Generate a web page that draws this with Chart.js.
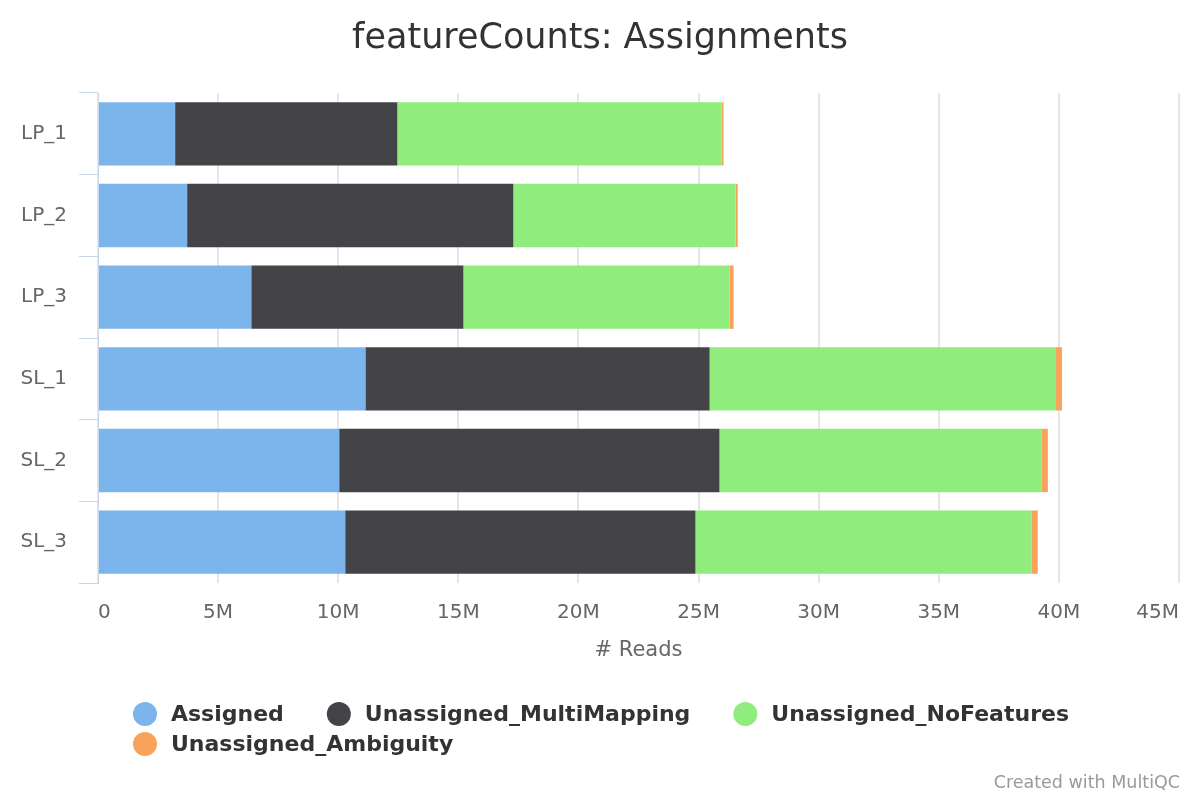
<!DOCTYPE html>
<html>
<head>
<meta charset="utf-8">
<script src="https://cdn.jsdelivr.net/npm/chart.js@4.4.1/dist/chart.umd.min.js"></script>
<style>
  html, body { margin: 0; padding: 0; background: #ffffff; }
  #wrap { width: 1200px; height: 800px; position: relative; }
  canvas { display: block; }
</style>
</head>
<body>
<div id="wrap"><canvas id="c" width="1200" height="800"></canvas></div>
<script>
const categories = ['LP_1', 'LP_2', 'LP_3', 'SL_1', 'SL_2', 'SL_3'];
const seriesNames = ['Assigned', 'Unassigned_MultiMapping', 'Unassigned_NoFeatures', 'Unassigned_Ambiguity'];
const seriesColors = ['#7cb5ec', '#434348', '#90ed7d', '#f7a35c'];
const assigned     = [3210000, 3710000, 6380000, 11130000, 10040000, 10290000];
const multiMapping = [9250000, 13580000, 8830000, 14330000, 15830000, 14580000];
const noFeatures   = [13500000, 9250000, 11080000, 14420000, 13420000, 14000000];
const ambiguity    = [80000, 90000, 170000, 250000, 250000, 250000];
const xTickStep = 5000000;
const xMax = 45000000;
const chartTitle = 'featureCounts: Assignments';
const xAxisTitle = '# Reads';
const creditText = 'Created with MultiQC';

const FONT = "'DejaVu Sans', 'Liberation Sans', sans-serif";
const seriesValues = [assigned, multiMapping, noFeatures, ambiguity];

const datasets = seriesNames.map((name, i) => ({
  label: name,
  data: seriesValues[i],
  backgroundColor: seriesColors[i],
  borderWidth: 0,
  barPercentage: 0.775,
  categoryPercentage: 1.0
}));

const legendPlugin = {
  id: 'hcLegend',
  afterDraw(chart) {
    const ctx = chart.ctx;
    ctx.save();
    ctx.font = "bold 22px " + FONT;
    ctx.textBaseline = 'middle';
    ctx.textAlign = 'left';
    const r = 12, gapSym = 14, itemDist = 43, maxRow = 1000, rowH = 30;
    const items = chart.data.datasets.map(d => ({
      label: d.label, color: d.backgroundColor,
      w: 2 * r + gapSym + ctx.measureText(d.label).width
    }));
    const rows = [[]];
    let cur = 0;
    items.forEach(it => {
      const add = (rows[rows.length - 1].length ? itemDist : 0) + it.w;
      if (cur + add > maxRow && rows[rows.length - 1].length) {
        rows.push([it]); cur = it.w;
      } else { rows[rows.length - 1].push(it); cur += add; }
    });
    const rowWidths = rows.map(row => row.reduce((s, it, k) => s + it.w + (k ? itemDist : 0), 0));
    const boxW = Math.max(...rowWidths);
    const startX = Math.round((chart.width - boxW) / 2) + 1;
    rows.forEach((row, ri) => {
      let x = startX;
      const y = 714 + ri * rowH;
      row.forEach(it => {
        ctx.fillStyle = it.color;
        ctx.beginPath();
        ctx.arc(x + r, y, r, 0, Math.PI * 2);
        ctx.fill();
        ctx.fillStyle = '#333333';
        ctx.fillText(it.label, x + 2 * r + gapSym, y + 1);
        x += it.w + itemDist;
      });
    });
    ctx.font = "17.5px " + FONT;
    ctx.fillStyle = '#999999';
    ctx.textAlign = 'right';
    ctx.fillText(creditText, 1180, 783);
    ctx.restore();
  }
};

new Chart(document.getElementById('c'), {
  type: 'bar',
  data: { labels: categories, datasets },
  options: {
    indexAxis: 'y',
    responsive: false,
    animation: false,
    layout: { padding: { left: 0, right: 0, top: 0, bottom: 117 } },
    plugins: {
      legend: { display: false },
      tooltip: { enabled: false },
      title: {
        display: true,
        text: chartTitle,
        color: '#333333',
        font: { family: FONT, size: 35, weight: 'normal' },
        padding: { top: 18, bottom: 33 }
      }
    },
    scales: {
      x: {
        stacked: true,
        min: 0,
        max: xMax,
        afterFit(scale) { scale.height = 100; scale.paddingLeft = 0; scale.paddingRight = 21; },
        ticks: {
          stepSize: xTickStep,
          align: 'inner',
          color: '#666666',
          padding: 18,
          maxRotation: 0,
          font: { family: FONT, size: 20 },
          callback: v => v === 0 ? '0' : (v / 1000000) + 'M'
        },
        grid: { color: '#e6e6e6', lineWidth: 2, drawTicks: false },
        border: { display: false },
        title: {
          display: true,
          text: xAxisTitle,
          color: '#666666',
          font: { family: FONT, size: 21 },
          padding: { top: 0, bottom: 20 }
        }
      },
      y: {
        stacked: true,
        afterFit(scale) { scale.width = 98; },
        ticks: {
          color: '#666666',
          padding: 12,
          font: { family: FONT, size: 20 }
        },
        grid: {
          offset: true,
          drawOnChartArea: false,
          drawTicks: true,
          tickLength: 19,
          color: '#ccd6eb',
          lineWidth: 1
        },
        border: { display: true, color: '#ccd6eb', width: 1 }
      }
    }
  },
  plugins: [legendPlugin]
});
</script>
</body>
</html>
